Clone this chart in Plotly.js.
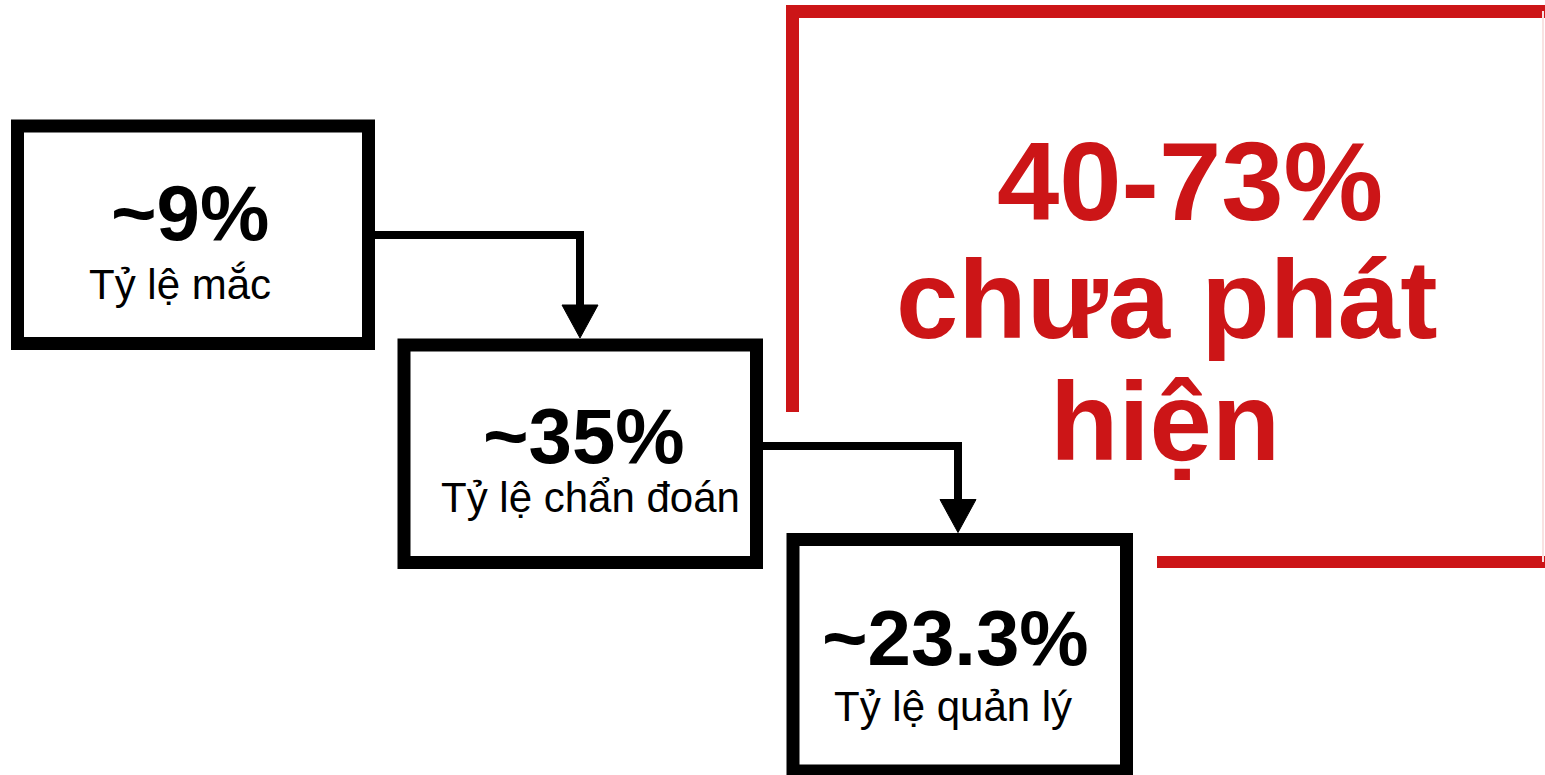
<!DOCTYPE html>
<html>
<head>
<meta charset="utf-8">
<script src="https://cdn.plot.ly/plotly-3.0.1.min.js"></script>
<style>html,body{margin:0;padding:0;background:#fff;overflow:hidden}</style>
</head>
<body>
<div id="chart" style="width:1545px;height:775px"></div>
<script>
// Data
var stageValues = ['~9%', '~35%', '~23.3%'];
var stageLabels = ['Tỷ lệ mắc', 'Tỷ lệ chẩn đoán', 'Tỷ lệ quản lý'];
var calloutLines = ['40-73%', 'chưa phát', 'hiện'];

// Layout geometry (pixel-space axes)
var boxX0 = [17.5, 404, 793];
var boxX1 = [368.5, 756.5, 1126.5];
var boxY0 = [126, 345, 539.5];
var boxY1 = [343.5, 562.5, 771];
var valueY = [213, 436, 638];
var valueX = [190, 584, 955];
var labelY = [284, 497, 706];
var labelX = [180, 590, 953];
var arrowY = [235, 446];
var arrowX = [580, 958];
var calloutX = [1190, 1167, 1165];
var calloutY = [181, 299, 421];

var BLACK = '#000000';
var RED = '#cc1517';
var shapes = [];
var annotations = [];

for (var i = 0; i < stageValues.length; i++) {
  shapes.push({type:'rect', xref:'x', yref:'y', x0:boxX0[i], x1:boxX1[i], y0:boxY0[i], y1:boxY1[i],
    line:{color:BLACK, width:13}, fillcolor:'rgba(255,255,255,0)'});
  annotations.push({xref:'x', yref:'y', x:valueX[i], y:valueY[i], text:'<b>'+stageValues[i]+'</b>', showarrow:false,
    xanchor:'center', yanchor:'middle', font:{family:'Liberation Sans, Arial, sans-serif', size:78, color:BLACK}});
  annotations.push({xref:'x', yref:'y', x:labelX[i], y:labelY[i], text:stageLabels[i], showarrow:false,
    xanchor:'center', yanchor:'middle', font:{family:'Liberation Sans, Arial, sans-serif', size:42, color:BLACK}});
}

// connector arrows
for (var j = 0; j < 2; j++) {
  var startX = boxX1[j] + 6;
  var tipY = boxY0[j+1] - 7;
  var headTop = tipY - 33;
  shapes.push({type:'path', xref:'x', yref:'y',
    path:'M'+startX+','+arrowY[j]+' L'+arrowX[j]+','+arrowY[j]+' L'+arrowX[j]+','+(headTop+2),
    line:{color:BLACK, width:8}, fillcolor:'rgba(0,0,0,0)'});
  shapes.push({type:'path', xref:'x', yref:'y',
    path:'M'+(arrowX[j]-18)+','+headTop+' L'+(arrowX[j]+18)+','+headTop+' L'+arrowX[j]+','+tipY+' Z',
    line:{color:BLACK, width:1}, fillcolor:BLACK});
}

// red frame
shapes.push({type:'path', xref:'x', yref:'y', path:'M792.5,412 L792.5,11.5 L1545,11.5',
  line:{color:RED, width:13}, fillcolor:'rgba(0,0,0,0)'});
shapes.push({type:'line', xref:'x', yref:'y', x0:1157, x1:1545, y0:562, y1:562,
  line:{color:RED, width:12}});
shapes.push({type:'line', xref:'x', yref:'y', x0:1543, x1:1543, y0:11, y1:562,
  line:{color:'#f8e2e2', width:2}});

for (var k = 0; k < calloutLines.length; k++) {
  annotations.push({xref:'x', yref:'y', x:calloutX[k], y:calloutY[k], text:'<b>'+calloutLines[k]+'</b>', showarrow:false,
    xanchor:'center', yanchor:'middle', font:{family:'Liberation Sans, Arial, sans-serif', size:112, color:RED}});
}

var layout = {
  width:1545, height:775,
  margin:{l:0, r:0, t:0, b:0, pad:0},
  paper_bgcolor:'#ffffff', plot_bgcolor:'#ffffff',
  xaxis:{range:[0,1545], visible:false, fixedrange:true},
  yaxis:{range:[775,0], visible:false, fixedrange:true},
  showlegend:false,
  shapes:shapes,
  annotations:annotations
};

Plotly.newPlot('chart', [{x:[], y:[], type:'scatter', hoverinfo:'skip'}], layout, {staticPlot:true, displayModeBar:false});
</script>
</body>
</html>
